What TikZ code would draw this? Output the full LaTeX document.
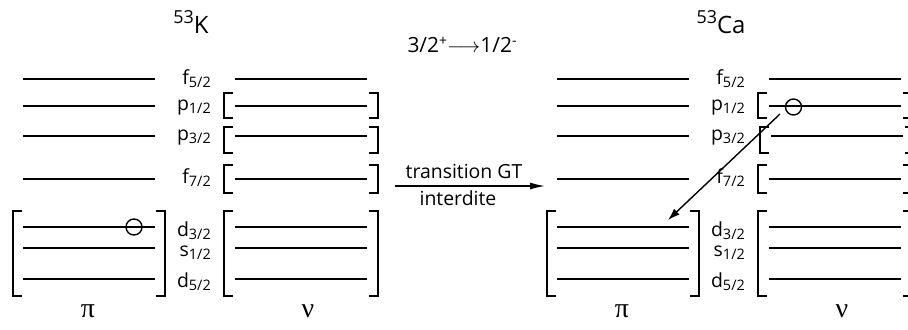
\documentclass[tikz,border=0pt]{standalone}
\usepackage{fontspec}
\setmainfont{Open Sans}
\newfontfamily\greekfont{Liberation Serif}
\usetikzlibrary{arrows.meta,calc}

\newcommand\lvlab[2]{#1\raisebox{-0.3ex}{\fontsize{14.5}{14.5}\selectfont #2}}
\newcommand\supx[1]{\raisebox{0.6ex}{\fontsize{14}{14}\selectfont #1}}
\newcommand\supt[1]{\raisebox{10bp}{\fontsize{18}{18}\selectfont #1}}

% bracket pair: #1 left x, #2 right x, #3 top y, #4 bottom y
\newcommand\brpair[4]{%
  \draw[brk] ($(#1,#3)+(9,0)$) -- (#1,#3) -- (#1,#4) -- ($(#1,#4)+(9,0)$);
  \draw[brk] ($(#2,#3)+(-9,0)$) -- (#2,#3) -- (#2,#4) -- ($(#2,#4)+(-9,0)$);
}

% one nucleus panel: #1 = name prefix, #2 = shift of nu p3/2 block
\newcommand\nucpanel[2]{%
  \foreach \yy in {79,106,136,179,227,248,279} {\draw[level] (23,\yy) -- (155,\yy);}
  \brpair{13}{165}{211}{296}
  \foreach \yy in {79,106,179,227,248,279} {\draw[level] (235,\yy) -- (367,\yy);}
  \draw[level] (235+#2,136) -- (367+#2,136);
  \brpair{224}{378}{93}{118}
  \brpair{224+#2}{378+#2}{127}{153}
  \brpair{224}{378}{165}{193}
  \brpair{224}{378}{211}{296}
  \node[lab] (#1f52) at (211,84) {\lvlab{f}{5/2}};
  \node[lab] (#1p12) at (211,110) {\lvlab{p}{1/2}};
  \node[lab] (#1p32) at (211,140) {\lvlab{p}{3/2}};
  \node[lab] (#1f72) at (211,183) {\lvlab{f}{7/2}};
  \node[lab] (#1d32) at (211,236) {\lvlab{d}{3/2}};
  \node[lab] (#1s12) at (211,256) {\lvlab{s}{1/2}};
  \node[lab] (#1d52) at (211,287) {\lvlab{d}{5/2}};
  \node[greek] (#1pi) at (88,317) {π};
  \node[greek] (#1nu) at (308,317) {ν};
}

\begin{document}
\begin{tikzpicture}[x=1bp,y=-1bp,
  level/.style={line width=1.5bp},
  brk/.style={line width=1.6bp},
  lab/.style={font=\fontsize{19.5}{22}\selectfont, anchor=base east, inner sep=0pt},
  hole/.style={circle, draw, line width=1.4bp, minimum size=16bp, inner sep=0pt},
  greek/.style={font=\greekfont\fontsize{28}{30}\selectfont, inner sep=0pt, anchor=base},
  ttl/.style={font=\fontsize{19.5}{23}\selectfont, inner sep=0pt, anchor=base},
  big/.style={font=\fontsize{24}{28}\selectfont, inner sep=0pt, anchor=base},
  arr/.style={line width=1.4bp, -{Latex[length=12bp,width=8bp]}}]
\useasboundingbox (0,0) rectangle (908,329);
\clip (0,0) rectangle (908,329);

% left nucleus 53K
\nucpanel{L}{0}
\node[hole] (Lhole) at (134,227) {};
\node[big] (Ktitle) at (191,33) {\supt{53}K};

% middle
\node[ttl, font=\fontsize{21}{24}\selectfont] (spin) at (462,52) {3/2\supx{+}$\longrightarrow$1/2\supx{-}};
\coordinate (ga) at (395,186);
\coordinate (gb) at (545,186);
\draw[arr, -{Latex[length=15bp,width=7bp]}] (ga) -- (gb);
\node[ttl] (trans) at (464,178) {transition GT};
\node[ttl] (interd) at (458,205) {interdite};

% right nucleus 53Ca
\begin{scope}[xshift=534bp]
\nucpanel{R}{2}
\node[big] (Catitle) at (187,33) {\supt{53}Ca};
\node[hole] (Rhole) at (259.5,107) {};
\coordinate (hs) at (246,114);
\coordinate (he) at (134,220);
\draw[arr] (hs) -- (he);
\end{scope}
\end{tikzpicture}
\end{document}
